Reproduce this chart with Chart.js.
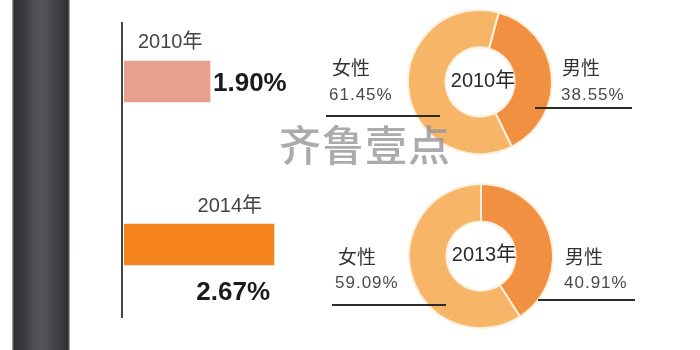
<!DOCTYPE html>
<html lang="zh">
<head>
<meta charset="UTF-8">
<title>女性比例</title>
<script src="https://cdn.jsdelivr.net/npm/chart.js"></script>
<style>
  html, body { margin: 0; padding: 0; background: #fff; }
  #page { position: relative; width: 700px; height: 350px; overflow: hidden; background: #fff; }
  #strip {
    position: absolute; left: 12px; top: 0; width: 58px; height: 350px;
    background: linear-gradient(to right, #b9b9bb 0px, #2f3034 2px, #37383d 10px, #4d4f55 22px,
      #55575d 30px, #45474c 40px, #393a3f 50px, #2e2f33 56px, #bdbdbf 58px);
  }
  .box { position: absolute; }
  #mark {
    position: absolute; left: 279px; top: 112px;
    font: 500 42px "Noto Sans CJK SC", sans-serif; letter-spacing: 1px;
    color: rgba(150, 150, 152, 0.8);
  }
</style>
</head>
<body>
<div id="page">
  <div id="strip"></div>
  <div class="box" style="left:120px; top:0; width:184px; height:326px;"><canvas id="rateChart"></canvas></div>
  <div class="box" style="left:320px; top:9px; width:320px; height:146px;"><canvas id="pie2010"></canvas></div>
  <div class="box" style="left:321px; top:183px; width:320px; height:146px;"><canvas id="pie2013"></canvas></div>
  <div id="mark">齐鲁壹点</div>
</div>

<script>
const rateYears = ['2010年', '2014年'];
const rateValues = [1.90, 2.67];

const pieLabels = ['男性', '女性'];
const share2010 = [38.55, 61.45];
const share2013 = [40.91, 59.09];

const FONT = '"Liberation Sans", "Noto Sans CJK SC", sans-serif';

// vertical axis line and the year / value labels beside each bar
const barLabels = {
  id: 'barLabels',
  afterDatasetsDraw(chart) {
    const ctx = chart.ctx;
    const area = chart.chartArea;
    ctx.save();
    ctx.fillStyle = '#444';
    ctx.fillRect(area.left - 3, area.top + 22, 2, area.bottom - area.top - 30);

    chart.getDatasetMeta(0).data.forEach((bar, i) => {
      const top = bar.y - bar.height / 2;
      const bottom = bar.y + bar.height / 2;
      const value = rateValues[i].toFixed(2) + '%';
      ctx.textBaseline = 'middle';
      if (i === 0) {
        ctx.font = '20px ' + FONT;
        ctx.fillStyle = '#444';
        ctx.textAlign = 'left';
        ctx.fillText(rateYears[i], area.left + 14, top - 19);
        ctx.font = 'bold 26px ' + FONT;
        ctx.fillStyle = '#1b1b1b';
        ctx.fillText(value, bar.x + 3, bar.y + 2);
      } else {
        ctx.font = '20px ' + FONT;
        ctx.fillStyle = '#444';
        ctx.textAlign = 'right';
        ctx.fillText(rateYears[i], bar.x - 12, top - 18);
        ctx.font = 'bold 26px ' + FONT;
        ctx.fillStyle = '#1b1b1b';
        ctx.fillText(value, bar.x - 4, bottom + 28);
      }
    });
    ctx.restore();
  }
};

new Chart(document.getElementById('rateChart'), {
  type: 'bar',
  data: {
    labels: rateYears,
    datasets: [{
      data: rateValues,
      backgroundColor: ['#e6a08d', '#f5841f'],
      barThickness: 41
    }]
  },
  options: {
    indexAxis: 'y',
    responsive: true,
    maintainAspectRatio: false,
    animation: false,
    layout: { padding: { left: 4 } },
    plugins: { legend: { display: false }, tooltip: { enabled: false } },
    scales: {
      x: { display: false, min: 0.865, max: 3.031 },
      y: { display: false }
    }
  },
  plugins: [barLabels]
});

// centre year, side labels and their underlines
const ringLabels = {
  id: 'ringLabels',
  afterDraw(chart, args, opts) {
    const ctx = chart.ctx;
    const arc = chart.getDatasetMeta(0).data[0];
    const cx = arc.x, cy = arc.y;
    const vals = chart.data.datasets[0].data;
    ctx.save();
    ctx.textBaseline = 'middle';
    ctx.textAlign = 'center';
    ctx.fillStyle = '#2a2a2a';
    ctx.font = '20px ' + FONT;
    ctx.fillText(opts.year, cx + 3, cy - 1);

    ctx.textAlign = 'left';
    ctx.fillStyle = '#333';
    ctx.font = '19px "Noto Sans CJK SC", sans-serif';
    ctx.fillText(chart.data.labels[1], cx + opts.left.x, cy + opts.left.name);
    ctx.fillText(chart.data.labels[0], cx + opts.right.x, cy + opts.right.name);

    ctx.fillStyle = '#4a4a4a';
    ctx.font = '17px ' + FONT;
    ctx.letterSpacing = '1px';
    ctx.fillText(vals[1].toFixed(2) + '%', cx + opts.left.x - 3, cy + opts.left.pct);
    ctx.fillText(vals[0].toFixed(2) + '%', cx + opts.right.x - 1, cy + opts.right.pct);

    ctx.fillStyle = '#2b2b2b';
    ctx.fillRect(cx + opts.left.x - 6, cy + opts.left.line, 114, 2);
    ctx.fillRect(cx + opts.right.x - 27, cy + opts.right.line, 97, 2);
    ctx.restore();
  }
};

function makeRing(id, shares, year, rotation, place) {
  return new Chart(document.getElementById(id), {
    type: 'doughnut',
    data: {
      labels: pieLabels,
      datasets: [{
        data: shares,
        backgroundColor: ['#f09040', '#f6b567'],
        borderColor: '#fdf1de',
        borderWidth: 2
      }]
    },
    options: {
      responsive: true,
      maintainAspectRatio: false,
      animation: false,
      cutout: '48%',
      rotation: rotation,
      plugins: {
        legend: { display: false },
        tooltip: { enabled: false },
        ringLabels: Object.assign({ year: year }, place)
      }
    },
    plugins: [ringLabels]
  });
}

makeRing('pie2010', share2010, '2010年', 15, {
  left: { x: -148, name: -14, pct: 13, line: 33 },
  right: { x: 82, name: -14, pct: 13, line: 25 }
});
makeRing('pie2013', share2013, '2013年', 0, {
  left: { x: -143, name: 1, pct: 27, line: 48 },
  right: { x: 84, name: 1, pct: 27, line: 43 }
});
</script>
</body>
</html>
